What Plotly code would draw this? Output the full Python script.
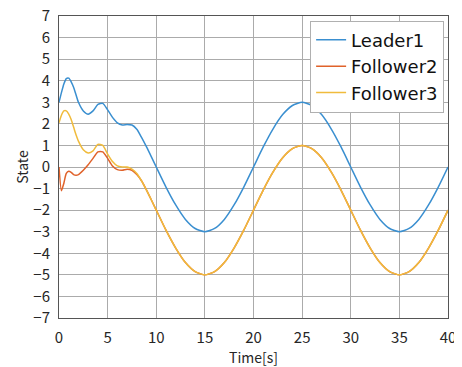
import plotly.graph_objects as go

time_s = [0, 0.25, 0.5, 0.75, 1, 1.25, 1.5, 1.75, 2, 2.5, 3, 3.5, 4, 4.5, 5, 5.5,
          6, 6.5, 7, 7.5, 8, 8.5, 9, 9.5, 10, 11, 12, 13, 14, 15, 16, 17, 18, 19,
          20, 21, 22, 23, 24, 25, 26, 27, 28, 29, 30, 31, 32, 33, 34, 35, 36, 37,
          38, 39, 40]

leader1 = [3.0, 3.45, 3.85, 4.1, 4.12, 3.95, 3.7, 3.35, 3.0, 2.6, 2.45, 2.6, 2.9, 2.95,
           2.65, 2.3, 2.05, 1.95, 1.97, 1.95, 1.75, 1.36, 0.93, 0.47, 0.0,
           -0.93, -1.76, -2.43, -2.85, -3.0, -2.85, -2.43, -1.76, -0.93,
           0.0, 0.93, 1.76, 2.43, 2.85, 3.0, 2.85, 2.43, 1.76, 0.93,
           0.0, -0.93, -1.76, -2.43, -2.85, -3.0, -2.85, -2.43, -1.76, -0.93, 0.0]

follower2 = [0.0, -1.1, -0.75, -0.3, -0.2, -0.25, -0.35, -0.38, -0.35, -0.15, 0.1, 0.4,
             0.7, 0.7, 0.4, 0.05, -0.12, -0.15, -0.1, -0.15, -0.35, -0.65, -1.07, -1.53, -2.0,
             -2.93, -3.76, -4.43, -4.85, -5.0, -4.85, -4.43, -3.76, -2.93,
             -2.0, -1.07, -0.24, 0.43, 0.85, 1.0, 0.85, 0.43, -0.24, -1.07,
             -2.0, -2.93, -3.76, -4.43, -4.85, -5.0, -4.85, -4.43, -3.76, -2.93, -2.0]

follower3 = [2.05, 2.4, 2.6, 2.6, 2.45, 2.2, 1.85, 1.5, 1.2, 0.8, 0.65, 0.75, 1.05, 1.0,
             0.6, 0.25, 0.05, 0.0, 0.0, -0.1, -0.3, -0.65, -1.07, -1.53, -2.0,
             -2.93, -3.76, -4.43, -4.85, -5.0, -4.85, -4.43, -3.76, -2.93,
             -2.0, -1.07, -0.24, 0.43, 0.85, 1.0, 0.85, 0.43, -0.24, -1.07,
             -2.0, -2.93, -3.76, -4.43, -4.85, -5.0, -4.85, -4.43, -3.76, -2.93, -2.0]

series = [("Leader1", leader1, "#3a8fd0"),
          ("Follower2", follower2, "#e0622a"),
          ("Follower3", follower3, "#f0bb3c")]

x_ticks = [0, 5, 10, 15, 20, 25, 30, 35, 40]
y_ticks = list(range(-7, 8))

FONT = "Noto Sans CJK JP"

fig = go.Figure()
for name, vals, color in series:
    fig.add_trace(go.Scatter(x=time_s, y=vals, name=name, mode="lines",
                             line=dict(color=color, width=1.5, shape="spline", smoothing=0.6)))

axis_common = dict(showgrid=True, gridcolor="#ababab", gridwidth=1,
                   showline=True, linecolor="#555555", linewidth=1, mirror=True,
                   ticks="", zeroline=False, automargin=False, ticklabeloverflow="allow",
                   tickfont=dict(family=FONT, size=15, color="#262626"))

fig.update_xaxes(range=[0, 40], tickvals=x_ticks, ticklabelstandoff=6,
                 title=dict(text="Time[s]", font=dict(family=FONT, size=14, color="#262626"), standoff=0),
                 **axis_common)
fig.update_yaxes(range=[-7, 7], tickvals=y_ticks, ticklabelstandoff=5,
                 ticktext=[str(v).replace("-", "\u2212") for v in y_ticks],
                 title=dict(text="State", font=dict(family=FONT, size=14, color="#262626"), standoff=1),
                 **axis_common)

# page body adds an 8px offset; size/margins compensate so the plot area lands where the reference has it
fig.update_layout(
    width=454, height=359,
    margin=dict(l=51, r=14, t=8, b=49),
    paper_bgcolor="white", plot_bgcolor="white",
    showlegend=True,
    legend=dict(x=0.99, y=0.985, xanchor="right", yanchor="top",
                bgcolor="white", bordercolor="#b0b0b0", borderwidth=1,
                font=dict(family="DejaVu Sans", size=18, color="#111111"),
                tracegroupgap=0, itemwidth=30),
)

fig.write_html("out.html")
